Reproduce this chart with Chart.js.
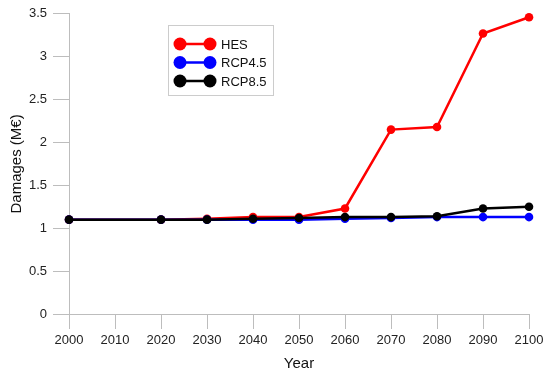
<!DOCTYPE html>
<html>
<head>
<meta charset="utf-8">
<script src="https://cdn.jsdelivr.net/npm/chart.js@4"></script>
<style>
  html, body { margin: 0; padding: 0; background: #fff; }
  #wrap { width: 550px; height: 373px; }
</style>
</head>
<body>
<div id="wrap"><canvas id="damages-chart" width="550" height="373"></canvas></div>
<script>
const years = [2000, 2020, 2030, 2040, 2050, 2060, 2070, 2080, 2090, 2100];
const hes = [1.10, 1.10, 1.11, 1.13, 1.13, 1.23, 2.15, 2.18, 3.27, 3.46];
const rcp45 = [1.10, 1.10, 1.10, 1.10, 1.10, 1.11, 1.12, 1.13, 1.13, 1.13];
const rcp85 = [1.10, 1.10, 1.10, 1.11, 1.12, 1.13, 1.13, 1.14, 1.23, 1.25];
const seriesNames = ['HES', 'RCP4.5', 'RCP8.5'];
const seriesColors = ['#ff0000', '#0000ff', '#000000'];

const font = 'Liberation Sans, Arial, sans-serif';
const axisGray = '#bdbdbd';

function toPoints(vals) {
    return years.map((y, i) => ({ x: y, y: vals[i] }));
}

// legend drawn inside the plot, top left-ish
const boxLegend = {
    id: 'boxLegend',
    afterDraw(chart) {
        const ctx = chart.ctx;
        ctx.save();
        ctx.strokeStyle = '#cccccc';
        ctx.lineWidth = 1;
        ctx.strokeRect(168.5, 25.5, 105, 70);
        chart.data.datasets.forEach((ds, i) => {
            const y = 44 + 18.5 * i;
            ctx.strokeStyle = ds.borderColor;
            ctx.fillStyle = ds.borderColor;
            ctx.lineWidth = 2.5;
            ctx.beginPath();
            ctx.moveTo(180, y);
            ctx.lineTo(210, y);
            ctx.stroke();
            for (const cx of [180, 210]) {
                ctx.beginPath();
                ctx.arc(cx, y, 6.5, 0, Math.PI * 2);
                ctx.fill();
            }
            ctx.fillStyle = '#111';
            ctx.font = '13px ' + font;
            ctx.textBaseline = 'middle';
            ctx.fillText(ds.label, 221, y + 1);
        });
        ctx.restore();
    }
};

const series = [hes, rcp45, rcp85];
const datasets = series.map((vals, i) => ({
    label: seriesNames[i],
    data: toPoints(vals),
    borderColor: seriesColors[i],
    backgroundColor: seriesColors[i],
    pointBackgroundColor: seriesColors[i],
    pointBorderColor: seriesColors[i],
    borderWidth: 2.5,
    pointRadius: 4.3,
    pointBorderWidth: 0,
    tension: 0,
    clip: false,
    order: 2 - i,
}));

new Chart(document.getElementById('damages-chart'), {
    type: 'line',
    data: { datasets },
    options: {
        responsive: false,
        animation: false,
        layout: { padding: { left: 0, right: 21, top: 6, bottom: 0 } },
        plugins: { legend: { display: false }, tooltip: { enabled: false } },
        scales: {
            x: {
                type: 'linear',
                min: 2000,
                max: 2100,
                ticks: { stepSize: 10, color: '#222', font: { family: font, size: 13 }, padding: 4,
                    callback: v => String(v) },
                grid: { display: true, drawOnChartArea: false, drawTicks: true, tickLength: 15, color: axisGray },
                border: { display: true, color: axisGray },
                title: { display: true, text: 'Year', color: '#111', font: { family: font, size: 15 }, padding: 0 },
                afterFit: s => { s.height = 59; },
            },
            y: {
                min: 0,
                max: 3.5,
                ticks: { stepSize: 0.5, color: '#222', font: { family: font, size: 13 }, padding: 6,
                    callback: v => String(v) },
                grid: { display: true, drawOnChartArea: false, drawTicks: true, tickLength: 16, color: axisGray },
                border: { display: true, color: axisGray },
                title: { display: true, text: 'Damages (M€)', color: '#111', font: { family: font, size: 15 },
                    padding: { top: 8, bottom: 0 } },
                afterFit: s => { s.width = 69; },
            },
        },
    },
    plugins: [boxLegend],
});
</script>
</body>
</html>
